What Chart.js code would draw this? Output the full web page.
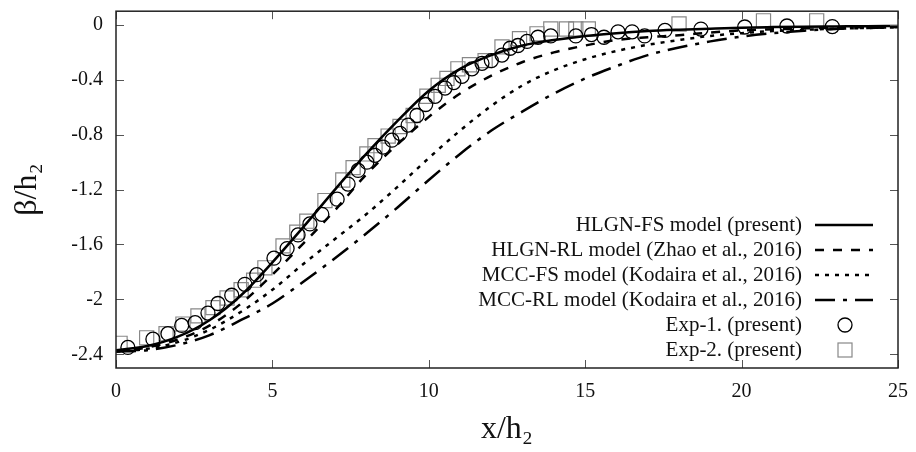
<!DOCTYPE html>
<html>
<head>
<meta charset="utf-8">
<title>beta/h2 profile</title>
<script src="https://cdn.jsdelivr.net/npm/chart.js@4.4.1/dist/chart.umd.min.js"></script>
<style>
  html, body { margin: 0; padding: 0; background: #fff; }
  #wrap { width: 916px; height: 452px; }
</style>
</head>
<body>
<div id="wrap"><canvas id="chart" width="916" height="452"></canvas></div>
<script>
// model curves, sampled every 1 x/h2
const xModel = [0, 1, 2, 3, 4, 5, 6, 7, 8, 9, 10, 11, 12, 13, 14, 15, 16, 17, 18, 19, 20, 21, 22, 23, 24, 25];
const hlgnFS = [-2.37, -2.34, -2.27, -2.15, -1.97, -1.73, -1.47, -1.20, -0.94, -0.70, -0.48, -0.32, -0.22, -0.15, -0.11, -0.08, -0.06, -0.045, -0.035, -0.027, -0.02, -0.016, -0.013, -0.011, -0.009, -0.008];
const hlgnRL = [-2.38, -2.35, -2.29, -2.19, -2.03, -1.82, -1.59, -1.35, -1.09, -0.87, -0.67, -0.50, -0.37, -0.27, -0.20, -0.15, -0.11, -0.09, -0.075, -0.055, -0.04, -0.032, -0.025, -0.02, -0.016, -0.013];
const mccFS = [-2.38, -2.36, -2.31, -2.22, -2.09, -1.93, -1.74, -1.56, -1.38, -1.18, -0.97, -0.77, -0.59, -0.44, -0.33, -0.25, -0.19, -0.145, -0.11, -0.08, -0.06, -0.045, -0.035, -0.028, -0.022, -0.018];
const mccRL = [-2.38, -2.37, -2.33, -2.26, -2.15, -2.03, -1.87, -1.70, -1.52, -1.33, -1.13, -0.94, -0.77, -0.63, -0.50, -0.39, -0.30, -0.22, -0.165, -0.12, -0.085, -0.06, -0.042, -0.03, -0.022, -0.016];

// experiments
const exp1X = [0.38, 1.18, 1.66, 2.1, 2.53, 2.94, 3.26, 3.7, 4.12, 4.5, 5.05, 5.47, 5.82, 6.2, 6.58, 7.07, 7.42, 7.74, 8.02, 8.28, 8.54, 8.82, 9.08, 9.34, 9.62, 9.9, 10.2, 10.52, 10.8, 11.06, 11.38, 11.7, 12.0, 12.34, 12.6, 12.85, 13.14, 13.49, 13.9, 14.7, 15.2, 15.6, 16.05, 16.5, 16.9, 17.55, 18.7, 20.1, 21.45, 22.9];
const exp1Y = [-2.35, -2.29, -2.25, -2.19, -2.17, -2.10, -2.03, -1.97, -1.89, -1.82, -1.70, -1.63, -1.53, -1.45, -1.38, -1.27, -1.16, -1.06, -1.00, -0.95, -0.89, -0.84, -0.79, -0.73, -0.66, -0.58, -0.52, -0.46, -0.42, -0.375, -0.32, -0.28, -0.26, -0.22, -0.17, -0.15, -0.12, -0.09, -0.08, -0.08, -0.07, -0.09, -0.05, -0.05, -0.08, -0.04, -0.03, -0.015, -0.008, -0.012];
const exp2X = [0.13, 0.98, 1.6, 2.14, 2.62, 3.1, 3.55, 4.0, 4.4, 4.76, 5.34, 5.78, 6.1, 6.68, 7.25, 7.58, 8.02, 8.28, 8.7, 9.08, 9.5, 9.94, 10.3, 10.58, 10.93, 11.3, 11.8, 12.34, 12.9, 13.46, 13.9, 14.4, 14.7, 15.1, 18.0, 20.7, 22.4];
const exp2Y = [-2.32, -2.28, -2.25, -2.18, -2.12, -2.06, -1.99, -1.93, -1.86, -1.77, -1.61, -1.51, -1.43, -1.28, -1.13, -1.04, -0.94, -0.88, -0.81, -0.74, -0.66, -0.52, -0.44, -0.39, -0.32, -0.29, -0.26, -0.16, -0.10, -0.065, -0.03, -0.03, -0.03, -0.03, 0.007, 0.03, 0.03];

const xTicks = [0, 5, 10, 15, 20, 25];
const yTicks = [-2.4, -2, -1.6, -1.2, -0.8, -0.4, 0];

const serif = "'Liberation Serif', 'Times New Roman', serif";

const pts = (xs, ys) => xs.map((x, i) => ({ x: x, y: ys[i] }));

const lineSet = (label, ys, dash) => ({
    label: label,
    data: pts(xModel, ys),
    borderColor: '#000',
    borderWidth: 2.5,
    borderDash: dash,
    pointRadius: 0,
    showLine: true,
    fill: false,
    cubicInterpolationMode: 'monotone'
});

// gnuplot-ish frame with inward ticks on all four sides
const framePlugin = {
    id: 'frame',
    afterDatasetsDraw(chart) {
        const { ctx, chartArea: a, scales } = chart;
        ctx.save();
        ctx.strokeStyle = '#555';
        ctx.lineWidth = 1;
        const len = 8;
        xTicks.forEach(v => {
            const px = Math.round(scales.x.getPixelForValue(v)) + 0.5;
            ctx.beginPath();
            ctx.moveTo(px, a.bottom); ctx.lineTo(px, a.bottom - len);
            ctx.moveTo(px, a.top); ctx.lineTo(px, a.top + len);
            ctx.stroke();
        });
        yTicks.forEach(v => {
            const py = Math.round(scales.y.getPixelForValue(v)) + 0.5;
            ctx.beginPath();
            ctx.moveTo(a.left, py); ctx.lineTo(a.left + len, py);
            ctx.moveTo(a.right, py); ctx.lineTo(a.right - len, py);
            ctx.stroke();
        });
        ctx.strokeStyle = '#222';
        ctx.lineWidth = 1.5;
        ctx.strokeRect(a.left, a.top, a.right - a.left, a.bottom - a.top);
        ctx.restore();
    }
};

// legend in the lower right, text right-aligned and sample to its right
const keyPlugin = {
    id: 'key',
    afterDatasetsDraw(chart) {
        const { ctx, chartArea: a } = chart;
        const textRight = a.right - 96;
        const x0 = a.right - 83, x1 = a.right - 25, xm = a.right - 53;
        const top = a.bottom - 143;
        ctx.save();
        ctx.font = '21px ' + serif;
        ctx.textAlign = 'right';
        ctx.textBaseline = 'middle';
        chart.data.datasets.forEach((ds, i) => {
            const y = top + i * 25;
            ctx.fillStyle = '#111';
            ctx.fillText(ds.label, textRight, y);
            ctx.strokeStyle = ds.borderColor;
            ctx.lineWidth = ds.borderWidth;
            if (ds.showLine) {
                ctx.setLineDash(ds.borderDash || []);
                ctx.beginPath();
                ctx.moveTo(x0, y); ctx.lineTo(x1, y);
                ctx.stroke();
                ctx.setLineDash([]);
            } else if (ds.pointStyle === 'rect') {
                ctx.strokeRect(xm - 7, y - 7, 14, 14);
            } else {
                ctx.beginPath();
                ctx.arc(xm, y, 7, 0, Math.PI * 2);
                ctx.stroke();
            }
        });
        ctx.restore();
    }
};

new Chart(document.getElementById('chart'), {
    type: 'scatter',
    data: {
        datasets: [
            lineSet('HLGN-FS model (present)', hlgnFS, []),
            lineSet('HLGN-RL model (Zhao et al., 2016)', hlgnRL, [9, 9]),
            lineSet('MCC-FS model (Kodaira et al., 2016)', mccFS, [4, 6]),
            lineSet('MCC-RL model (Kodaira et al., 2016)', mccRL, [20, 8, 4, 8]),
            {
                label: 'Exp-1. (present)',
                data: pts(exp1X, exp1Y),
                pointStyle: 'circle',
                pointRadius: 7,
                borderColor: '#000',
                borderWidth: 1.3,
                backgroundColor: 'rgba(0,0,0,0)',
                showLine: false
            },
            {
                label: 'Exp-2. (present)',
                data: pts(exp2X, exp2Y),
                pointStyle: 'rect',
                pointRadius: 10,
                borderColor: '#888',
                borderWidth: 1.2,
                backgroundColor: 'rgba(0,0,0,0)',
                showLine: false
            }
        ]
    },
    options: {
        responsive: false,
        animation: false,
        layout: { padding: { left: 0, right: 18, top: 4, bottom: 0 } },
        plugins: {
            legend: { display: false },
            tooltip: { enabled: false }
        },
        scales: {
            x: {
                type: 'linear',
                min: 0,
                max: 25,
                afterBuildTicks: s => { s.ticks = xTicks.map(v => ({ value: v })); },
                afterFit: s => { s.height = 84; s.paddingLeft = 0; s.paddingRight = 0; },
                grid: { display: false, drawTicks: false },
                border: { display: false },
                ticks: { padding: 12, color: '#111', font: { family: serif, size: 20 } },
                title: {
                    display: true,
                    text: 'x/h₂',
                    color: '#111',
                    font: { family: serif, size: 32 },
                    padding: { top: 0, bottom: 3 }
                }
            },
            y: {
                min: -2.5,
                max: 0.1,
                afterBuildTicks: s => { s.ticks = yTicks.map(v => ({ value: v })); },
                afterFit: s => { s.width = 116; s.paddingTop = 0; s.paddingBottom = 0; },
                grid: { display: false, drawTicks: false },
                border: { display: false },
                ticks: {
                    padding: 13,
                    color: '#111',
                    font: { family: serif, size: 20 },
                    callback: v => String(Math.round(v * 10) / 10)
                },
                title: {
                    display: true,
                    text: 'β/h₂',
                    color: '#111',
                    font: { family: serif, size: 32 },
                    padding: { top: 8, bottom: 0 }
                }
            }
        }
    },
    plugins: [framePlugin, keyPlugin]
});
</script>
</body>
</html>
